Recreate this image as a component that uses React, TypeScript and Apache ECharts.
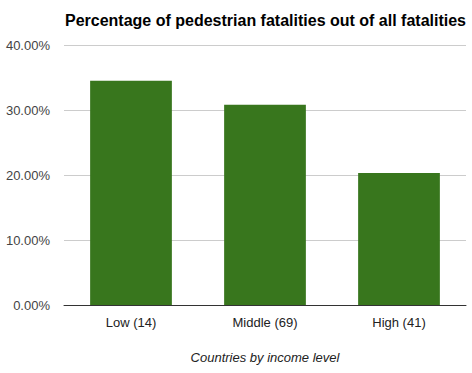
import React, { useEffect, useRef } from "react";
import * as echarts from "echarts";

const categories = ["Low (14)", "Middle (69)", "High (41)"];
const values = [34.5, 30.8, 20.3];
const yTicks = [0, 10, 20, 30, 40];

export default function App() {
  const ref = useRef<HTMLDivElement>(null);
  useEffect(() => {
    if (!ref.current) return;
    const chart = echarts.init(ref.current, undefined, { renderer: "svg" });
    chart.setOption({
      animation: false,
      textStyle: { fontFamily: "Liberation Sans, Arial, sans-serif" },
      title: {
        text: "Percentage of pedestrian fatalities out of all fatalities",
        left: 60,
        top: 7,
        textStyle: { fontSize: 16, fontWeight: "bold", color: "#000", fontFamily: "Liberation Sans, Arial, sans-serif" },
      },
      grid: { left: 64, right: 6, top: 45, bottom: 68 },
      xAxis: {
        type: "category",
        data: categories,
        name: "Countries by income level",
        nameLocation: "middle",
        nameGap: 46,
        nameTextStyle: { fontStyle: "italic", fontSize: 13, color: "#222" },
        axisLine: { lineStyle: { color: "#333", width: 1 } },
        axisTick: { show: false },
        axisLabel: { fontSize: 13, color: "#222", margin: 11 },
      },
      yAxis: {
        type: "value",
        min: yTicks[0],
        max: yTicks[yTicks.length - 1],
        interval: 10,
        axisLine: { show: false },
        axisTick: { show: false },
        splitLine: { lineStyle: { color: "#ccc" } },
        axisLabel: {
          fontSize: 13,
          color: "#444",
          margin: 14,
          formatter: (v: number) => v.toFixed(2) + "%",
        },
      },
      series: [
        {
          type: "bar",
          data: values,
          barWidth: "61%",
          itemStyle: { color: "#38761d" },
        },
      ],
    });
    return () => chart.dispose();
  }, []);
  return <div ref={ref} style={{ width: 472, height: 373, position: "absolute", left: 0, top: 0 }} />;
}
